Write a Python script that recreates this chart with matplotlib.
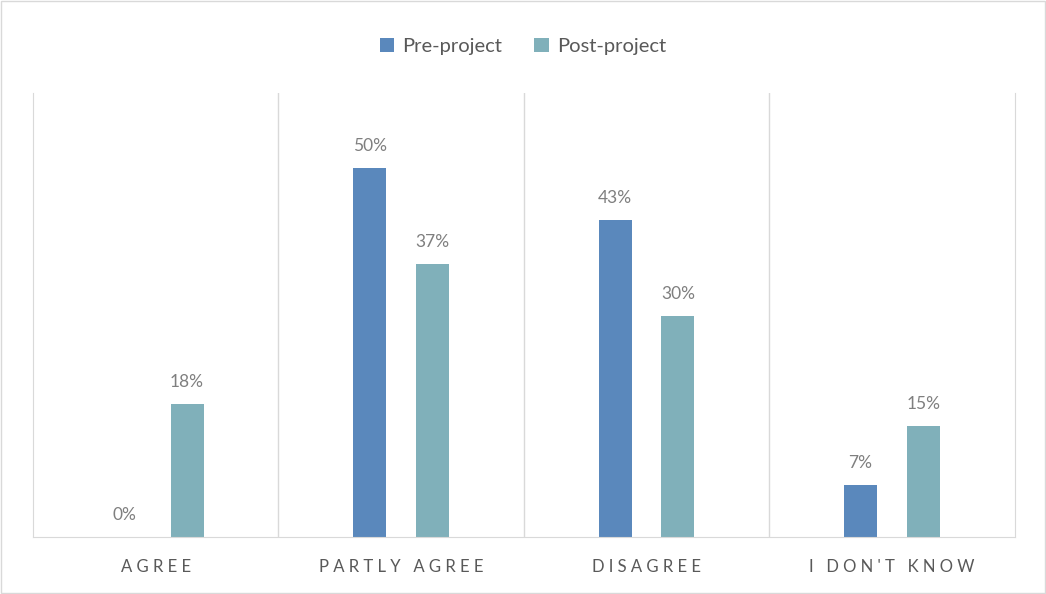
import matplotlib
matplotlib.use("Agg")
import matplotlib.pyplot as plt
import numpy as np

categories = ["AGREE", "PARTLY AGREE", "DISAGREE", "I DON'T KNOW"]
pre_project = [0, 50, 43, 7]
post_project = [18, 37, 30, 15]

plt.rcParams["font.family"] = ["Lato", "DejaVu Sans"]
text_color = "#595959"
pre_color = "#5A88BC"
post_color = "#80B0BA"

fig = plt.figure(figsize=(10.46, 5.94), dpi=100)
ax = fig.add_axes([0.0315, 0.096, 0.9385, 0.7474])

x = np.arange(len(categories))
w = 0.135
off = 0.128
b1 = ax.bar(x - off, pre_project, w, color=pre_color, label="Pre-project")
b2 = ax.bar(x + off, post_project, w, color=post_color, label="Post-project")

for bars in (b1, b2):
    for r in bars:
        ax.annotate(f"{r.get_height():.0f}%", (r.get_x() + r.get_width() / 2, r.get_height()),
                    xytext=(0, 10), textcoords="offset points", ha="center", va="bottom",
                    fontsize=12.5, color="#7f7f7f")

ax.set_xlim(-0.5, len(categories) - 0.5)
ax.set_ylim(0, 60.2)
for b in np.arange(0.5, len(categories) - 0.5, 1):
    ax.axvline(b, color="#d9d9d9", lw=1)
for s in ("left", "right", "bottom"):
    ax.spines[s].set_color("#d9d9d9")
ax.spines["top"].set_visible(False)
ax.set_yticks([])
ax.set_xticks(x)
ax.set_xticklabels([" ".join(c) for c in categories], fontsize=12, color=text_color)
ax.tick_params(axis="x", length=0, pad=16)

fig.legend(loc="upper center", bbox_to_anchor=(0.5, 0.967), ncol=2, frameon=False,
           fontsize=14.5, handlelength=0.7, handleheight=0.7, columnspacing=1.6,
           handletextpad=0.4, labelcolor=text_color)

border = plt.Rectangle((0.001, 0.001), 0.998, 0.997, transform=fig.transFigure,
                       fill=False, edgecolor="#d9d9d9", lw=1)
fig.patches.append(border)

fig.savefig("out.png", dpi=100)
plt.close()
